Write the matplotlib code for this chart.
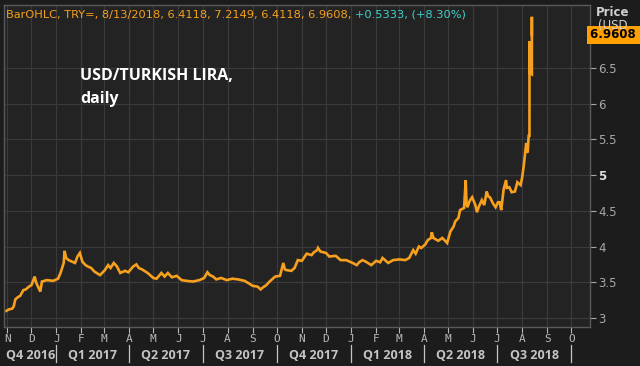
import pandas as pd
import matplotlib
matplotlib.use('Agg')
import matplotlib.pyplot as plt
import matplotlib.transforms as mtransforms

# USD/TRY daily (last two days keep open/high/close)
dates = [
    '2016-10-31', '2016-11-03', '2016-11-07', '2016-11-09', '2016-11-11', '2016-11-14',
    '2016-11-17', '2016-11-21', '2016-11-24', '2016-11-28', '2016-12-01', '2016-12-05',
    '2016-12-07', '2016-12-12', '2016-12-14', '2016-12-20', '2016-12-28', '2017-01-03',
    '2017-01-06', '2017-01-10', '2017-01-11', '2017-01-13', '2017-01-16', '2017-01-20',
    '2017-01-24', '2017-01-27', '2017-01-30', '2017-02-02', '2017-02-06', '2017-02-09',
    '2017-02-13', '2017-02-17', '2017-02-24', '2017-03-02', '2017-03-06', '2017-03-09',
    '2017-03-13', '2017-03-17', '2017-03-21', '2017-03-27', '2017-03-31', '2017-04-06',
    '2017-04-10', '2017-04-13', '2017-04-17', '2017-04-24', '2017-05-01', '2017-05-05',
    '2017-05-11', '2017-05-15', '2017-05-19', '2017-05-24', '2017-05-30', '2017-06-05',
    '2017-06-11', '2017-06-19', '2017-06-27', '2017-07-03', '2017-07-07', '2017-07-10',
    '2017-07-14', '2017-07-18', '2017-07-24', '2017-07-31', '2017-08-07', '2017-08-14',
    '2017-08-22', '2017-08-28', '2017-09-01', '2017-09-07', '2017-09-11', '2017-09-14',
    '2017-09-18', '2017-09-22', '2017-09-29', '2017-10-05', '2017-10-09', '2017-10-11',
    '2017-10-13', '2017-10-19', '2017-10-23', '2017-10-27', '2017-11-01', '2017-11-07',
    '2017-11-13', '2017-11-16', '2017-11-20', '2017-11-21', '2017-11-24', '2017-12-01',
    '2017-12-05', '2017-12-13', '2017-12-19', '2017-12-26', '2018-01-03', '2018-01-08',
    '2018-01-11', '2018-01-15', '2018-01-19', '2018-01-26', '2018-02-01', '2018-02-06',
    '2018-02-09', '2018-02-16', '2018-02-22', '2018-03-02', '2018-03-09', '2018-03-14',
    '2018-03-19', '2018-03-22', '2018-03-26', '2018-03-29', '2018-04-03', '2018-04-06',
    '2018-04-10', '2018-04-11', '2018-04-13', '2018-04-19', '2018-04-24', '2018-04-30',
    '2018-05-04', '2018-05-08', '2018-05-10', '2018-05-14', '2018-05-16', '2018-05-21',
    '2018-05-23', '2018-05-24', '2018-05-25', '2018-05-28', '2018-05-31', '2018-06-04',
    '2018-06-06', '2018-06-08', '2018-06-12', '2018-06-15', '2018-06-18', '2018-06-20',
    '2018-06-22', '2018-06-26', '2018-06-29', '2018-07-02', '2018-07-04', '2018-07-06',
    '2018-07-09', '2018-07-12', '2018-07-13', '2018-07-16', '2018-07-19', '2018-07-23',
    '2018-07-26', '2018-07-30', '2018-08-01', '2018-08-03', '2018-08-06', '2018-08-07',
    '2018-08-08', '2018-08-09', '2018-08-10', '2018-08-10', '2018-08-10', '2018-08-13',
    '2018-08-13', '2018-08-13',
]
usdtry = [
    3.10, 3.12, 3.13, 3.16, 3.26, 3.29,
    3.31, 3.39, 3.40, 3.44, 3.46, 3.58,
    3.49, 3.37, 3.51, 3.53, 3.52, 3.55,
    3.63, 3.77, 3.94, 3.84, 3.81, 3.79,
    3.77, 3.86, 3.91, 3.79, 3.74, 3.72,
    3.70, 3.65, 3.60, 3.67, 3.74, 3.70,
    3.77, 3.72, 3.63, 3.66, 3.64, 3.72,
    3.75, 3.70, 3.68, 3.63, 3.56, 3.55,
    3.63, 3.58, 3.63, 3.57, 3.59, 3.53,
    3.52, 3.51, 3.53, 3.56, 3.64, 3.60,
    3.58, 3.54, 3.56, 3.53, 3.55, 3.54,
    3.52, 3.48, 3.45, 3.44, 3.40, 3.43,
    3.46, 3.51, 3.58, 3.59, 3.77, 3.68,
    3.67, 3.66, 3.70, 3.81, 3.80, 3.90,
    3.88, 3.92, 3.95, 3.98, 3.93, 3.91,
    3.86, 3.87, 3.81, 3.81, 3.77, 3.74,
    3.78, 3.81, 3.79, 3.74, 3.80, 3.78,
    3.84, 3.77, 3.81, 3.82, 3.81, 3.84,
    3.95, 3.90, 4.00, 3.98, 4.03, 4.09,
    4.12, 4.20, 4.12, 4.08, 4.12, 4.05,
    4.21, 4.28, 4.35, 4.40, 4.51, 4.54,
    4.93, 4.62, 4.55, 4.64, 4.69, 4.58,
    4.48, 4.55, 4.65, 4.58, 4.77, 4.70,
    4.69, 4.60, 4.55, 4.62, 4.62, 4.51,
    4.80, 4.93, 4.82, 4.83, 4.76, 4.77,
    4.90, 4.86, 4.97, 5.14, 5.45, 5.31,
    5.35, 5.55, 5.55, 6.87, 6.43, 6.41,
    7.2149, 6.9608,
]

price_ticks = [3, 3.5, 4, 4.5, 5, 5.5, 6, 6.5]
quarter_starts = ['2017-01-01', '2017-04-01', '2017-07-01', '2017-10-01',
                  '2018-01-01', '2018-04-01', '2018-07-01', '2018-10-01']
quarter_labels = ['Q4 2016', 'Q1 2017', 'Q2 2017', 'Q3 2017',
                  'Q4 2017', 'Q1 2018', 'Q2 2018', 'Q3 2018']

BG = '#1c1c1c'
PANEL = '#232323'
GRID = '#3a3a3a'
ORANGE = '#f7a01e'
TEXT = '#b8b8b8'

x = pd.to_datetime(dates)
x_left = pd.Timestamp('2016-10-28')
x_right = pd.Timestamp('2018-10-24')

fig = plt.figure(figsize=(6.4, 3.66), dpi=100, facecolor=BG)
ax = fig.add_axes([4 / 640, 39 / 366, 586 / 640, 322 / 366], facecolor=PANEL)

ax.plot(x, usdtry, color=ORANGE, linewidth=1.9, solid_joinstyle='miter')

ax.set_xlim(x_left, x_right)
ax.set_ylim(2.874, 7.38)

# month ticks along the bottom
months = pd.date_range('2016-11-01', '2018-10-01', freq='MS')
ax.set_xticks(months)
ax.set_xticklabels([m.strftime('%b')[0] for m in months],
                   family='DejaVu Sans Mono', fontsize=8)
ax.tick_params(axis='x', colors=TEXT, length=4, width=0.8, pad=1)

# price axis on the right
ax.yaxis.tick_right()
ax.set_yticks(price_ticks)
ax.set_yticklabels(['%g' % p for p in price_ticks], fontsize=8.5)
ax.tick_params(axis='y', colors='#a8a8a8', length=4, width=0.8, pad=2)
for lab in ax.get_yticklabels():
    if lab.get_text() == '5':
        lab.set_fontweight('bold')
        lab.set_color('#e0e0e0')

ax.grid(True, color=GRID, linewidth=0.9)
ax.set_axisbelow(True)
for s in ax.spines.values():
    s.set_color('#5a5a5a')
    s.set_linewidth(1)

# quarter labels with separators
trans = mtransforms.blended_transform_factory(ax.transData, ax.transAxes)
q_bounds = [x_left] + list(pd.to_datetime(quarter_starts))
for i, lab in enumerate(quarter_labels):
    mid = q_bounds[i] + (q_bounds[i + 1] - q_bounds[i]) / 2
    ax.text(mid, -0.089, lab, transform=trans, ha='center', va='center',
            fontsize=9, fontweight='bold', color='#c4c4c4', family='Open Sans')
for qs in quarter_starts:
    ax.plot([pd.Timestamp(qs)] * 2, [-0.055, -0.11], transform=trans,
            color='#c4c4c4', linewidth=0.9, clip_on=False)

# header line
hdr = ax.text(0.004, 0.985, 'BarOHLC, TRY=, 8/13/2018, 6.4118, 7.2149, 6.4118, 6.9608, ',
              transform=ax.transAxes, ha='left', va='top', fontsize=8.2, color=ORANGE)
ax.annotate('+0.5333, (+8.30%)', xy=(1, 0), xycoords=hdr, ha='left', va='bottom',
            fontsize=8.2, color='#3fd2cf')

# title
ax.text(0.13, 0.745, 'USD/TURKISH LIRA,\ndaily', transform=ax.transAxes,
        ha='left', va='center', fontsize=11.5, fontweight='bold', color='white',
        family='Open Sans', linespacing=1.6)

# right-hand price header and last price box
fig.text(596 / 640, 1 - 12 / 366, 'Price', ha='left', va='center', fontsize=8.5,
         color='#d0d0d0', fontweight='bold')
fig.text(598 / 640, 1 - 25 / 366, '(USD', ha='left', va='center', fontsize=8.5,
         color='#d0d0d0')
ytrans = mtransforms.blended_transform_factory(ax.transAxes, ax.transData)
ax.text(1.0, usdtry[-1], '6.9608 ', transform=ytrans, ha='left', va='center',
        fontsize=8.5, fontweight='bold', color='black',
        bbox=dict(boxstyle='square,pad=0.25', facecolor='#ffa000', edgecolor='none'))

fig.savefig('out.png', dpi=100, facecolor=BG)
